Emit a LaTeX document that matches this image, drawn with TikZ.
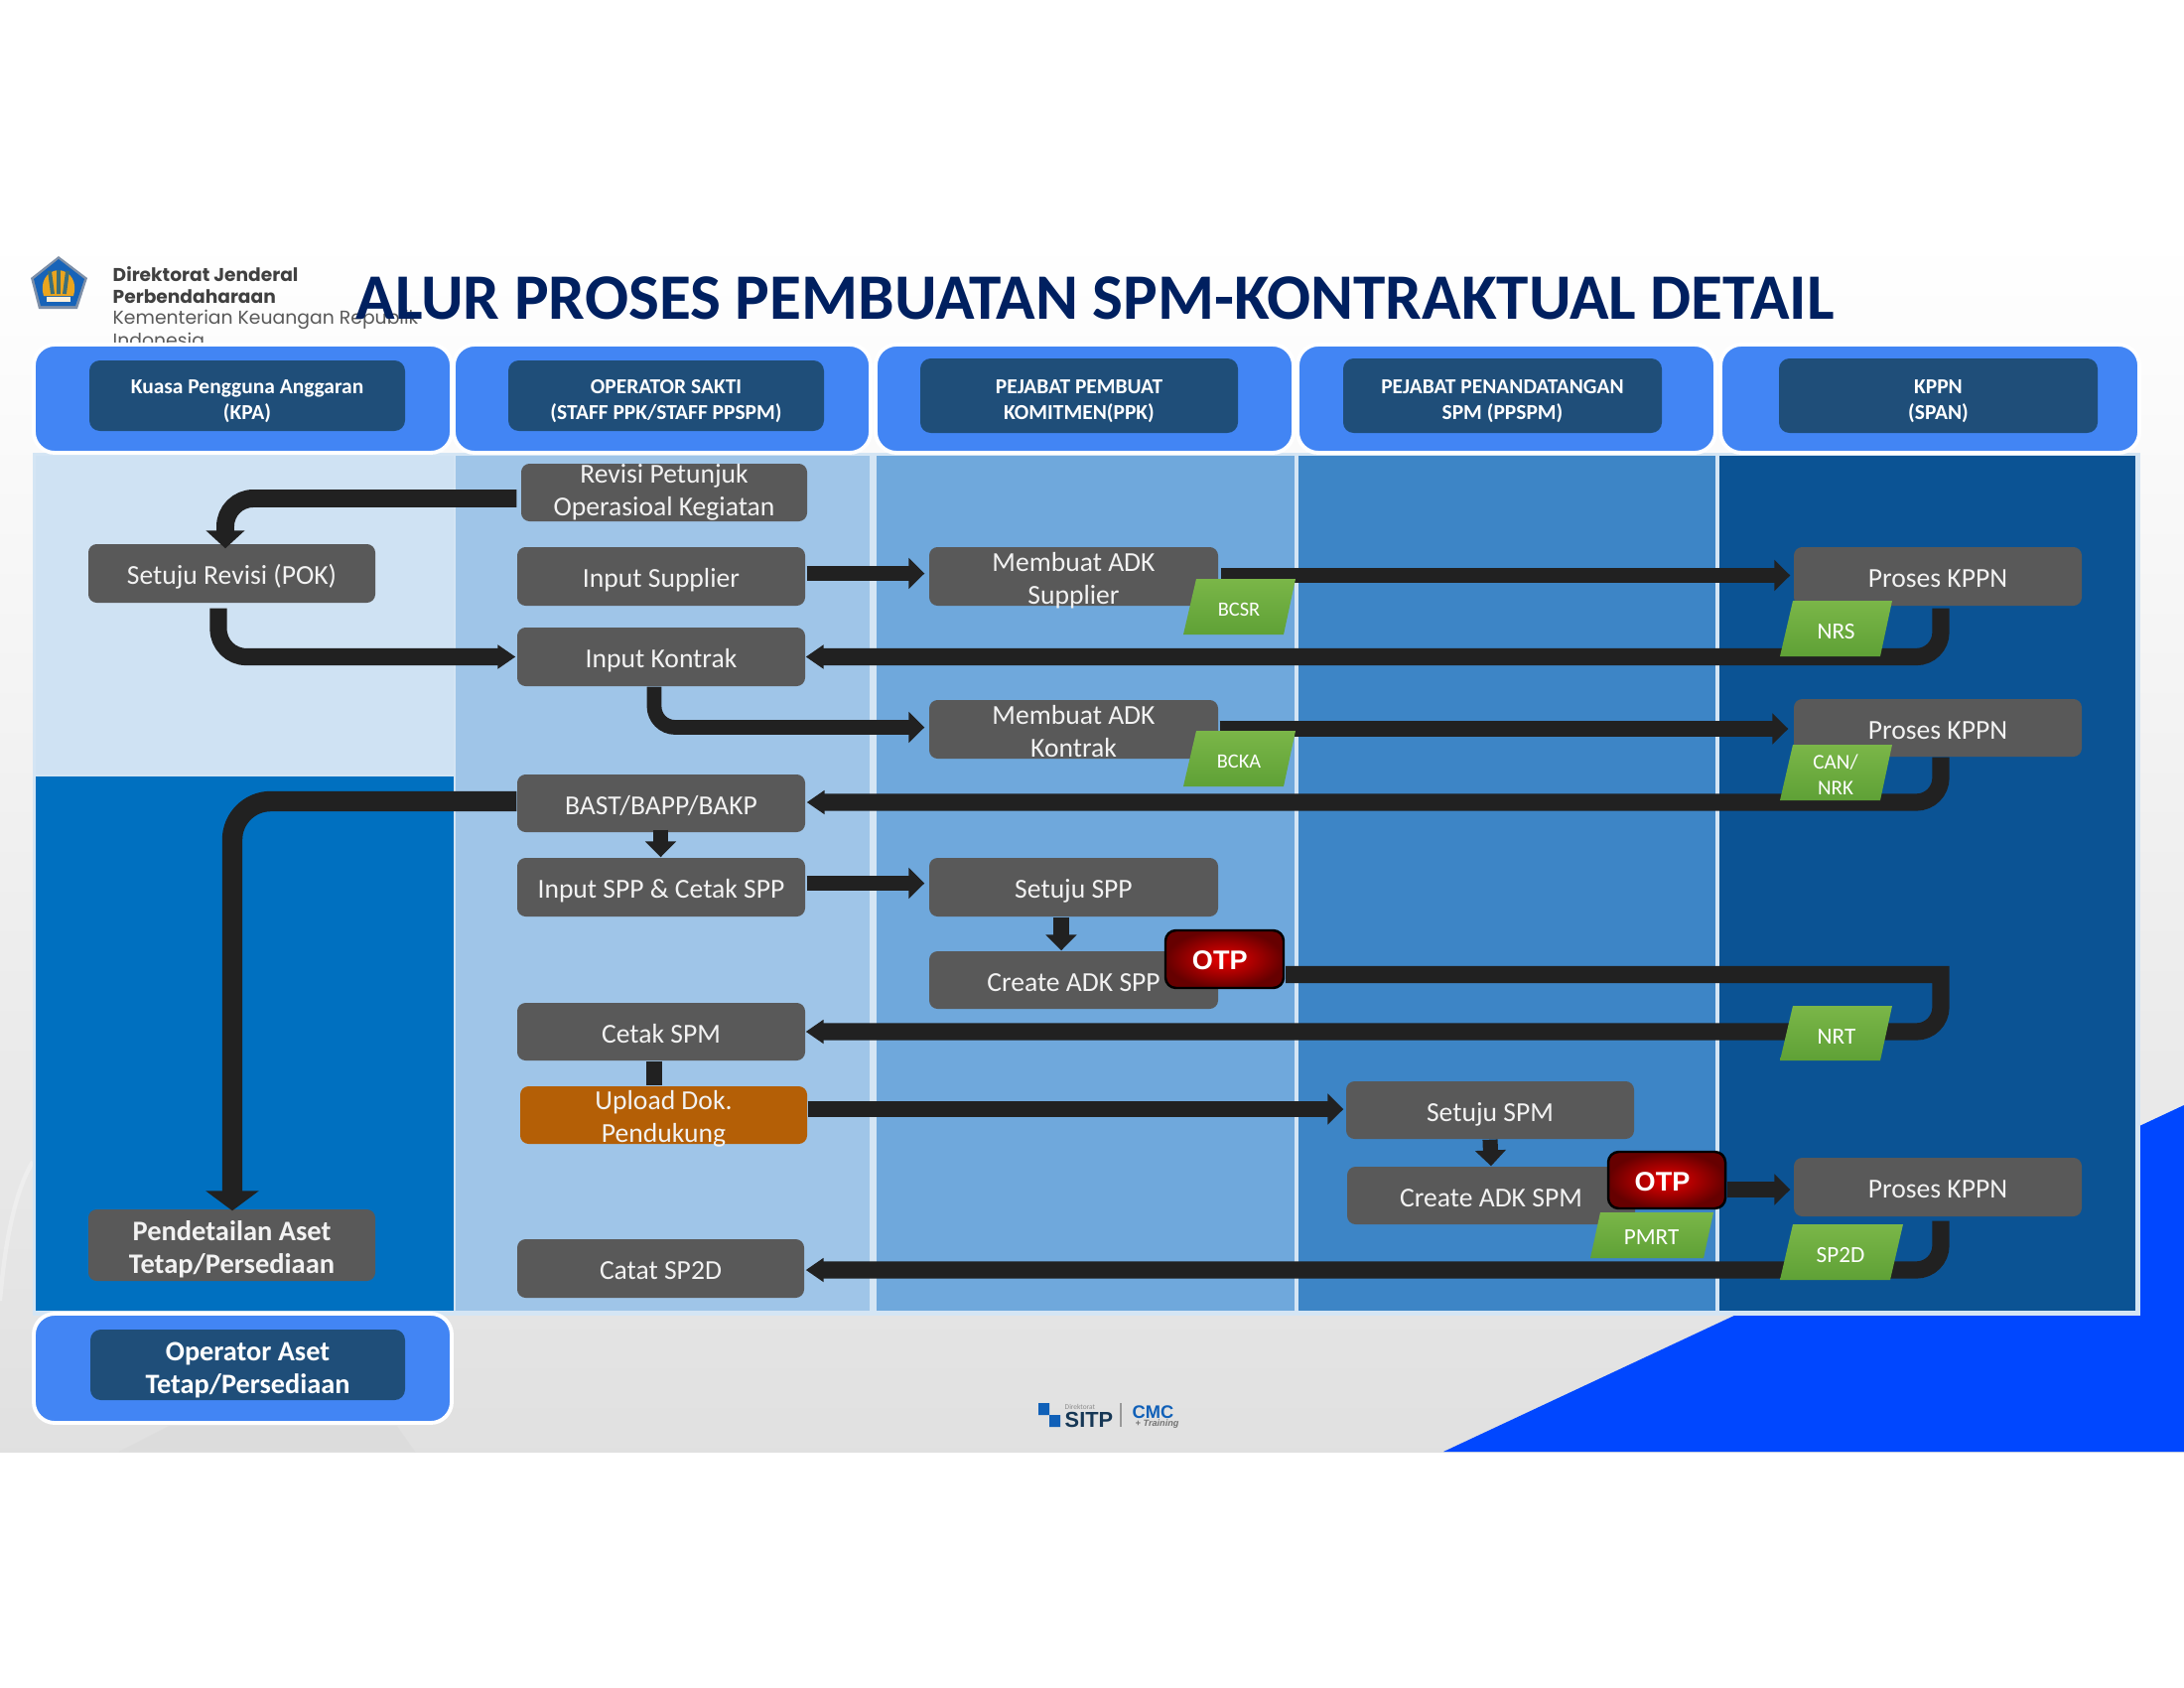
\documentclass[tikz,border=0pt]{standalone}
\usepackage{fontspec}
\setmainfont{Carlito}
\newfontfamily\popf{Poppins}
\newfontfamily\arf{Liberation Sans}
\usetikzlibrary{arrows.meta,calc,shapes.geometric}
\definecolor{grayb}{HTML}{595959}
\definecolor{orangeb}{HTML}{B45F06}
\definecolor{hblue}{HTML}{4285F4}
\definecolor{hdark}{HTML}{1F4E79}
\definecolor{linec}{HTML}{212121}
\definecolor{colA}{HTML}{CFE2F3}
\definecolor{colB}{HTML}{0070C0}
\definecolor{colC}{HTML}{9FC5E8}
\definecolor{colD}{HTML}{6FA8DC}
\definecolor{colE}{HTML}{3D85C6}
\definecolor{colF}{HTML}{0B5394}
\definecolor{sepc}{HTML}{D6E6F5}
\definecolor{titlec}{HTML}{002060}
\definecolor{greenT}{HTML}{7AB648}
\definecolor{greenB}{HTML}{5FA136}
\definecolor{slideblue}{HTML}{0047FF}
\definecolor{logoblue}{HTML}{1763B8}
\definecolor{logoedge}{HTML}{7F90A8}
\definecolor{logogold}{HTML}{EBA51E}
\definecolor{logostalk}{HTML}{3C6E78}
\definecolor{sitpblue}{HTML}{1060B8}
\def\cts{.42em}
\newcommand\ctext[1]{\smash{\raisebox{-\cts}{\begin{tabular}{@{}c@{}}#1\end{tabular}}}}
\newcommand\bx[7][pbox]{\node[#1,minimum width={(#5-#3)*0.01cm},minimum height={(#6-#4)*0.01cm}] (#2) at ({(#3+#5)/2},{(#4+#6)/2}) {\ctext{#7}};}
\tikzset{
  pbox/.style={draw=none,fill=grayb,rounded corners=2.4pt,inner sep=0pt,text=white!95!black,font=\fontsize{7.85}{9.4}\selectfont},
  pboxhi/.style={pbox,font=\def\cts{.27em}\fontsize{7.85}{9.4}\selectfont},
  pboxb/.style={pbox,font=\fontsize{8.1}{9.4}\selectfont\bfseries},
  obox/.style={pbox,fill=orangeb},
  hout/.style={draw=white,line width=1.1pt,fill=hblue,rounded corners=6pt,inner sep=0pt},
  hin/.style={fill=hdark,rounded corners=3pt,inner sep=0pt,text=white,font=\def\cts{.52em}\fontsize{6.1}{7.3}\selectfont\bfseries},
  hinb/.style={hin,font=\def\cts{.45em}\fontsize{8.05}{9.4}\selectfont\bfseries},
  otpb/.style={draw=black,line width=.7pt,rounded corners=3pt,inner color=red!92!black,outer color=red!40!black,inner sep=0pt,text=white,font=\arf\fontsize{7.7}{9.4}\selectfont\bfseries},
  gt/.style={inner sep=0pt,text=white,font=\def\cts{.45em}\fontsize{6.6}{7.4}\selectfont},
  conn/.style={draw=linec,line width=4.3pt,line join=miter,-{Triangle[length=4.5pt,width=8.6pt]}},
  connw/.style={draw=linec,line width=4.9pt,line join=miter,-{Triangle[length=5.1pt,width=6.6pt]}},
  plainline/.style={draw=linec,line width=4.6pt},
  rc/.style={rounded corners=#1}
}
\begin{document}
\begin{tikzpicture}[x=0.01cm,y=-0.01cm]
\useasboundingbox (0,0) rectangle (2200,1700);
\fill[white] (0,0) rectangle (2200,1700);
% slide
\shade[top color=white,middle color=black!7,bottom color=black!12] (0,238) rectangle (2200,1462);
\draw[white,opacity=.3,line width=1.2pt] (33,1170) .. controls (15,1200) and (5,1250) .. (0,1310);
\fill[black!16,opacity=.4] (170,1436) -- (400,1436) -- (418,1462) -- (120,1462) -- cycle;
\fill[slideblue] (1454,1462) -- (2200,1113) -- (2200,1462) -- cycle;
% logo
\fill[logoedge] (59,258) -- (88,280) -- (78,311) -- (39,311) -- (31,280) -- cycle;
\fill[logoblue] (59,261) -- (85,281) -- (76,308) -- (41,308) -- (34,281) -- cycle;
\fill[logogold] (59,272) .. controls (72,273) and (78,285) .. (74,298) -- (44,298) .. controls (40,285) and (46,273) .. (59,272) -- cycle;
\draw[logostalk,line width=1.1pt] (50,273) -- (53,296) (59,272) -- (59,296) (68,273) -- (65,296);
\fill[white!85!logogold] (47,299) rectangle (71,304);
% logo text
\begin{scope}
\clip (100,260) rectangle (440,344);
\node[anchor=base west,inner sep=0pt,text=black!75,font=\popf\fontsize{5.3}{5.5}\selectfont\bfseries] (lt1) at (113,283) {Direktorat Jenderal};
\node[anchor=base west,inner sep=0pt,text=black!75,font=\popf\fontsize{5.3}{5.5}\selectfont\bfseries] (lt2) at (113,305) {Perbendaharaan};
\node[anchor=base west,inner sep=0pt,text=black!65,font=\popf\fontsize{5.35}{5.5}\selectfont] (lt3) at (113,327) {Kementerian Keuangan Republik};
\node[anchor=base west,inner sep=0pt,text=black!65,font=\popf\fontsize{5.35}{5.5}\selectfont] (lt4) at (113,349) {Indonesia};
\end{scope}
\node[inner sep=0pt,text=titlec,font=\fontsize{18.56}{20}\selectfont\bfseries] (title) at (1103,300.5) {ALUR PROSES PEMBUATAN SPM-KONTRAKTUAL DETAIL};
% panels
\fill[sepc!70!colA] (33,456) rectangle (2156,1325);
\fill[colA] (36,459) rectangle (457,780);
\fill[colB] (36,782) rectangle (457,1320);
\fill[colC] (459,459) rectangle (876,1320);
\fill[colD] (883,459) rectangle (1304,1320);
\fill[colE] (1308,459) rectangle (1728,1320);
\fill[colF] (1732,459) rectangle (2151,1320);
% headers
\bx[hout]{ho1}{34}{347}{455}{456}{}
\bx[hout]{ho2}{457}{347}{877}{456}{}
\bx[hout]{ho3}{882}{347}{1303}{456}{}
\bx[hout]{ho4}{1307}{347}{1728}{456}{}
\bx[hout]{ho5}{1733}{347}{2155}{456}{}
\bx[hin]{h1}{90}{363}{408}{434}{Kuasa Pengguna Anggaran\\(KPA)}
\bx[hin]{h2}{512}{363}{830}{434}{OPERATOR SAKTI\\(STAFF PPK/STAFF PPSPM)}
\bx[hin]{h3}{927}{361}{1247}{436}{PEJABAT PEMBUAT\\KOMITMEN(PPK)}
\bx[hin]{h4}{1353}{361}{1674}{436}{PEJABAT PENANDATANGAN\\SPM (PPSPM)}
\bx[hin]{h5}{1792}{361}{2113}{436}{KPPN\\(SPAN)}
\bx[hout]{ho6}{34}{1323}{455}{1433}{}
\bx[hinb]{h6}{91}{1339}{408}{1410}{Operator Aset\\Tetap/Persediaan}
% boxes
\bx[pboxhi]{rev}{525}{467}{813}{525}{Revisi Petunjuk\\Operasioal Kegiatan}
\bx{setrev}{89}{548}{378}{607}{Setuju Revisi (POK)}
\bx{isup}{521}{551}{811}{610}{Input Supplier}
\bx{ikon}{521}{632}{811}{691}{Input Kontrak}
\bx{adks}{936}{551}{1227}{610}{Membuat ADK\\Supplier}
\bx{adkk}{936}{705}{1227}{764}{Membuat ADK\\Kontrak}
\bx{pk1}{1807}{551}{2097}{610}{Proses KPPN}
\bx{pk2}{1807}{704}{2097}{762}{Proses KPPN}
\bx{bast}{521}{780}{811}{838}{BAST/BAPP/BAKP}
\bx{ispp}{521}{864}{811}{923}{Input SPP \& Cetak SPP}
\bx{setspp}{936}{864}{1227}{923}{Setuju SPP}
\bx{cadk}{936}{958}{1227}{1016}{Create ADK SPP}
\bx{cetak}{521}{1010}{811}{1068}{Cetak SPM}
\bx[obox]{upl}{524}{1094}{813}{1152}{Upload Dok.\\Pendukung}
\bx{setspm}{1356}{1089}{1646}{1147}{Setuju SPM}
\bx{cspm}{1357}{1175}{1647}{1233}{Create ADK SPM}
\bx{pk3}{1807}{1166}{2097}{1225}{Proses KPPN}
\bx{catat}{521}{1248}{810}{1307}{Catat SP2D}
\bx[pboxb]{pend}{89}{1218}{378}{1290}{Pendetailan Aset\\Tetap/Persediaan}
% connectors
\draw[conn,line width=5.1pt,-{Triangle[length=5.1pt,width=10.8pt]},rc=8pt] ($(rev.west)+(-4,6)$) -| ($(setrev.north)+(-6.5,5)$);
\draw[connw,rc=8pt] ($(setrev.south)+(-13.5,5)$) |- ($(ikon.west)+(-1,0)$);
\draw[conn] ($(isup.east)+(1,-3)$) -- ($(adks.west)+(-4,-3)$);
\draw[conn] ($(adks.east)+(2,-1)$) -- ($(pk1.west)+(-3,-1)$);
\draw[connw,rc=7pt] ($(pk1.south)+(3,2)$) |- (ikon.east);
\draw[conn,line width=4.2pt,rc=6pt] ($(ikon.south)+(-7,0)$) |- ($(adkk.west)+(-4,-2)$);
\draw[conn] ($(adkk.east)+(1,-.5)$) -- ($(pk2.west)+(-5,1)$);
\draw[connw,rc=7pt] ($(pk2.south)+(3,0)$) |- ($(bast.east)+(1,-1)$);
\draw[conn,line width=5.8pt,-{Triangle[length=5.7pt,width=15pt]},rc=11pt] ($(bast.west)+(0,-2)$) -| ($(pend.north)+(.5,2)$);
\draw[conn] ($(bast.south)+(-.5,-3)$) -- ($(ispp.north)+(-.5,0)$);
\draw[conn] ($(ispp.east)+(1,-4)$) -- ($(setspp.west)+(-4,-4)$);
\draw[conn] ($(setspp.south)+(-12.5,0)$) -- ($(cadk.north)+(-12.5,0)$);
\draw[plainline] ($(cetak.south)+(-7,0)$) -- ($(upl.north)+(-9.5,0)$);
\draw[conn] ($(upl.east)+(0,-6)$) -- ($(setspm.west)+(-2,-1)$);
\draw[conn] (setspm.south) -- (cspm.north);
\draw[connw,rc=7pt] ($(pk3.south)+(3,4)$) |- ($(catat.east)+(1,1.5)$);
% OTP
\bx[otpb]{otp1}{1174}{937}{1293}{995}{OTP\hspace*{.35em}}
\coordinate (bend) at (1955,981.5);
\draw[connw] ($(otp1.east)+(1,15.5)$) -- (bend) [rc=7pt] -- (bend |- cetak.east) -- ($(cetak.east)+(0,0)$);
\bx[otpb]{otp2}{1620}{1160}{1738}{1217}{OTP\hspace*{.33em}}
\draw[conn] ($(otp2.east)+(1,9.5)$) -- ($(pk3.west)+(-3,2.5)$);
% green tags
\shade[top color=greenT,bottom color=greenB] (1205,583) -- (1305,583) -- (1293,639) -- (1192,639) -- cycle;
\node[gt,font=\def\cts{.45em}\fontsize{5.8}{7}\selectfont] (bcsr) at (1248,612) {\ctext{BCSR}};
\shade[top color=greenT,bottom color=greenB] (1205,736) -- (1305,736) -- (1293,792) -- (1192,792) -- cycle;
\node[gt,font=\def\cts{.45em}\fontsize{5.8}{7}\selectfont] (bcka) at (1248,765) {\ctext{BCKA}};
\shade[top color=greenT,bottom color=greenB] (1806,605) -- (1906,605) -- (1894,661) -- (1793,661) -- cycle;
\node[gt] (nrs) at (1849.5,634) {\ctext{NRS}};
\shade[top color=greenT,bottom color=greenB] (1806,750) -- (1906,750) -- (1894,806) -- (1793,806) -- cycle;
\node[gt,font=\def\cts{.4em}\fontsize{6}{7.4}\selectfont] (can) at (1849,779) {\ctext{CAN/\\NRK}};
\shade[top color=greenT,bottom color=greenB] (1806,1013) -- (1906,1013) -- (1894,1068) -- (1793,1068) -- cycle;
\node[gt] (nrt) at (1850,1041.5) {\ctext{NRT}};
\shade[top color=greenT,bottom color=greenB] (1612,1221) -- (1726,1221) -- (1716,1267) -- (1602,1267) -- cycle;
\node[gt] (pmrt) at (1663.5,1244) {\ctext{PMRT}};
\shade[top color=greenT,bottom color=greenB] (1806,1233) -- (1917,1233) -- (1904,1289) -- (1793,1289) -- cycle;
\node[gt] (sp2d) at (1854,1261.5) {\ctext{SP2D}};
% SITP logo
\fill[sitpblue] (1046,1413) rectangle (1057,1425) (1057,1425) rectangle (1068,1437);
\node[inner sep=0pt,anchor=base west,text=black!45,font=\fontsize{2.1}{3}\selectfont] (sdir) at (1072,1419) {Direktorat};
\node[inner sep=0pt,anchor=base west,text=hdark!70!black,font=\arf\fontsize{6.2}{6.5}\selectfont\bfseries] (sitp) at (1072,1437) {SITP};
\draw[black!40,line width=.3pt] (1129,1413) -- (1129,1437);
\node[inner sep=0pt,anchor=base west,text=sitpblue,font=\arf\fontsize{5.2}{6}\selectfont\bfseries] (cmc) at (1140,1428) {CMC};
\node[inner sep=0pt,anchor=base west,text=black!55,font=\arf\fontsize{2.6}{3}\selectfont\bfseries\itshape] (trn) at (1143,1436) {+ Training};
\end{tikzpicture}
\end{document}
